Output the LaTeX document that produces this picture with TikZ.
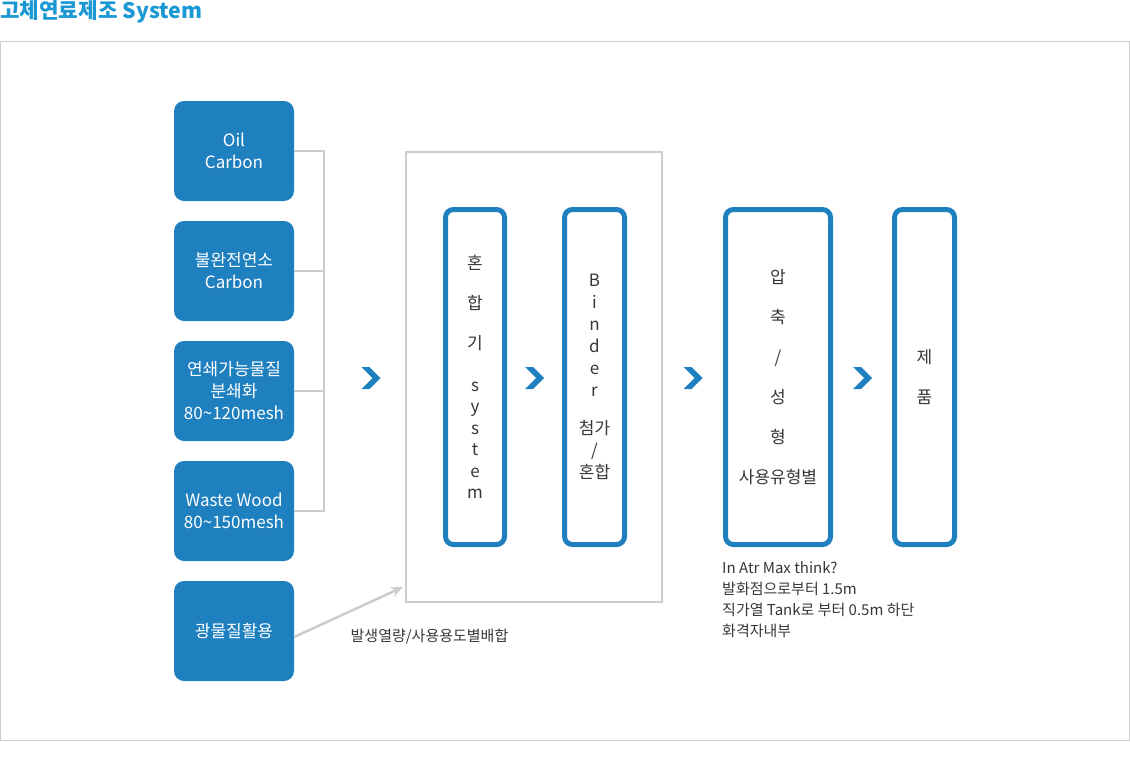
\documentclass[tikz,border=0pt]{standalone}
\usepackage{fontspec}
\setmainfont{Noto Sans CJK KR}
\usetikzlibrary{arrows.meta}
\definecolor{boxblue}{RGB}{31,128,192}
\definecolor{titleblue}{RGB}{26,152,212}
\definecolor{framegray}{RGB}{204,204,204}
\definecolor{textgray}{RGB}{55,55,55}

\begin{document}
\begin{tikzpicture}[x=1pt,y=-1pt,>=Stealth,
    srcbox/.style={fill=boxblue,rounded corners=10pt,minimum width=120pt,
      minimum height=100pt,inner sep=0pt,text=white,align=center,
      font=\fontsize{17}{22}\selectfont},
    stagebox/.style={draw=boxblue,line width=5pt,rounded corners=8pt,fill=white,
      minimum height=335pt,inner sep=0pt,align=center,text=textgray},
    feed/.style={draw=framegray,line width=2pt},
    note/.style={inner sep=0pt,text=textgray,font=\fontsize{15}{21}\selectfont},
    chev/.pic={\fill[boxblue] (-9.5,-11) -- (-1.5,-11) -- (9.5,0) -- (-1.5,11)
      -- (-9.5,11) -- (1.5,0) -- cycle;}]
  \useasboundingbox (0,0) rectangle (1130,763);
  % title and panel
  \node[anchor=west,inner sep=0pt,text=titleblue,
    font=\fontsize{21.3}{24}\selectfont\bfseries] (title) at (0,12) {고체연료제조 System};
  \draw[framegray,line width=1pt] (0.5,41.5) rectangle (1129.5,740.5);
  % raw materials
  \node[srcbox] (oil) at (234,151) {Oil\\Carbon};
  \node[srcbox] (incomplete) at (234,271) {불완전연소\\Carbon};
  \node[srcbox] (chain) at (234,391) {연쇄가능물질\\분쇄화\\80\textasciitilde120mesh};
  \node[srcbox] (wood) at (234,511) {Waste Wood\\80\textasciitilde150mesh};
  \node[srcbox] (mineral) at (234,631) {광물질활용};
  % collecting line
  \coordinate (bustop) at (324,151);
  \coordinate (busbot) at (324,511);
  \draw[feed] (oil.east) -- (bustop) -- (busbot) -- (wood.east);
  \draw[feed] (incomplete.east) -- (incomplete.east -| bustop);
  \draw[feed] (chain.east) -- (chain.east -| bustop);
  % mixing stage
  \node[draw=framegray,line width=2pt,minimum width=256pt,minimum height=450pt,
    inner sep=0pt] (stage) at (533.5,376.5) {};
  \node[stagebox,minimum width=59pt,font=\fontsize{17}{21.5}\selectfont] (mixer) at (475,377)
    {혼\\[18.5pt]합\\[18.5pt]기\\[20.5pt]s\\y\\s\\t\\e\\m};
  \node[stagebox,minimum width=60pt,font=\fontsize{17}{22}\selectfont] (binder) at (594.5,377)
    {B\\i\\n\\d\\e\\r\\[16pt]첨가\\/\\혼합};
  \node[stagebox,minimum width=105pt,font=\fontsize{17}{40}\selectfont] (press) at (778,377)
    {압\\축\\/\\성\\형\\사용유형별};
  \node[stagebox,minimum width=60pt,font=\fontsize{17}{40}\selectfont] (product) at (924.5,377)
    {제\\품};
  % chevrons
  \pic at (371,378) {chev};
  \pic at (534.5,378) {chev};
  \pic at (693,378) {chev};
  \pic at (862.5,378) {chev};
  % heat input
  \coordinate (heatin) at (403,587);
  \draw[feed,line width=2.5pt,-{Stealth[length=12pt,width=10pt]}]
    ([yshift=-6pt]mineral.east) -- (heatin);
  \node[note] (heatlabel) at (429.5,637) {발생열량/사용용도별배합};
  \node[note,anchor=north west,align=left] (condition) at (722,561)
    {In Atr Max think?\\발화점으로부터 1.5m\\직가열 Tank로 부터 0.5m 하단\\화격자내부};
\end{tikzpicture}
\end{document}
